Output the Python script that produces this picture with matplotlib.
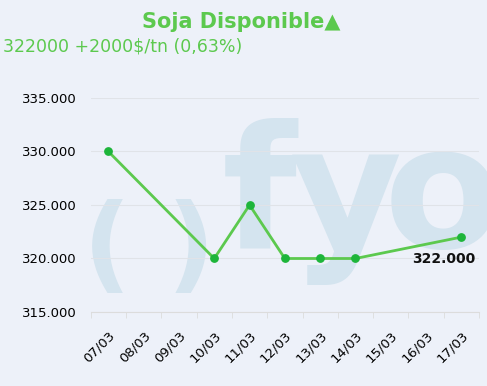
import matplotlib.pyplot as plt
import numpy as np

dates = ["07/03", "08/03", "09/03", "10/03", "11/03", "12/03",
         "13/03", "14/03", "15/03", "16/03", "17/03"]
price_idx = [0, 3, 4, 5, 6, 7, 10]
prices = [330000, 320000, 325000, 320000, 320000, 320000, 322000]
yticks = [315000, 320000, 325000, 330000, 335000]

bg = "#edf1f9"
W, H = 487, 386
fig = plt.figure(figsize=(W / 100, H / 100), dpi=100, facecolor=bg)
ax = fig.add_axes([90.7 / W, 1 - 312 / H, (479 - 90.7) / W, (312 - 98) / H])
ax.set_facecolor(bg)

# watermark logo, behind everything
wm = "#d4e4ef"
for x, ch in [(107, "("), (191, ")")]:
    ax.text(x / W, 1 - 250 / H, ch, transform=fig.transFigure, fontsize=76,
            fontweight="heavy", color=wm, ha="center", va="center",
            clip_on=False, zorder=0.1)
for x, ch in [(222, "f"), (290, "y"), (384, "o")]:
    ax.text(x / W, 1 - 248 / H, ch, transform=fig.transFigure, fontsize=124,
            fontweight="bold", color=wm, ha="left", va="baseline",
            clip_on=False, zorder=0.1)

ax.plot(price_idx, prices, color="#5cc94e", lw=2, zorder=3)
ax.scatter(price_idx, prices, s=28, color="#1db53a", zorder=4)
ax.annotate("322.000", (price_idx[-1], prices[-1]), xytext=(10, -16),
            textcoords="offset points", ha="right", va="center",
            fontsize=10, fontweight="bold", color="#111111", zorder=5)

ax.set_xlim(-0.5, len(dates) - 0.5)
ax.set_ylim(315000, 335000)
ax.set_xticks(range(len(dates)))
ax.set_xticklabels(dates, rotation=45, ha="right", rotation_mode="anchor", fontsize=9.5)
ax.set_xticks(np.arange(-0.5, len(dates)), minor=True)
ax.tick_params(axis="x", which="major", length=0, pad=12)
ax.tick_params(axis="x", which="minor", length=4, color="#dcdcdc")
ax.set_yticks(yticks)
ax.set_yticklabels([f"{v:,}".replace(",", ".") for v in yticks], fontsize=9.5)
ax.tick_params(axis="y", length=0, pad=10)
ax.grid(axis="y", color="#e0e3e8", lw=0.8)
for s in ["top", "right", "left"]:
    ax.spines[s].set_visible(False)
ax.spines["bottom"].set_color("#dcdcdc")
ax.set_axisbelow(True)

fig.text(241 / W, 1 - 22 / H, "Soja Disponible\u25b2", ha="center", va="center",
         fontsize=15, fontweight="bold", color="#5cc94e")
fig.text(3 / W, 1 - 47 / H, "322000 +2000$/tn (0,63%)", ha="left", va="center",
         fontsize=12.5, color="#5cc94e")

fig.savefig("out.png", dpi=100, facecolor=bg)
